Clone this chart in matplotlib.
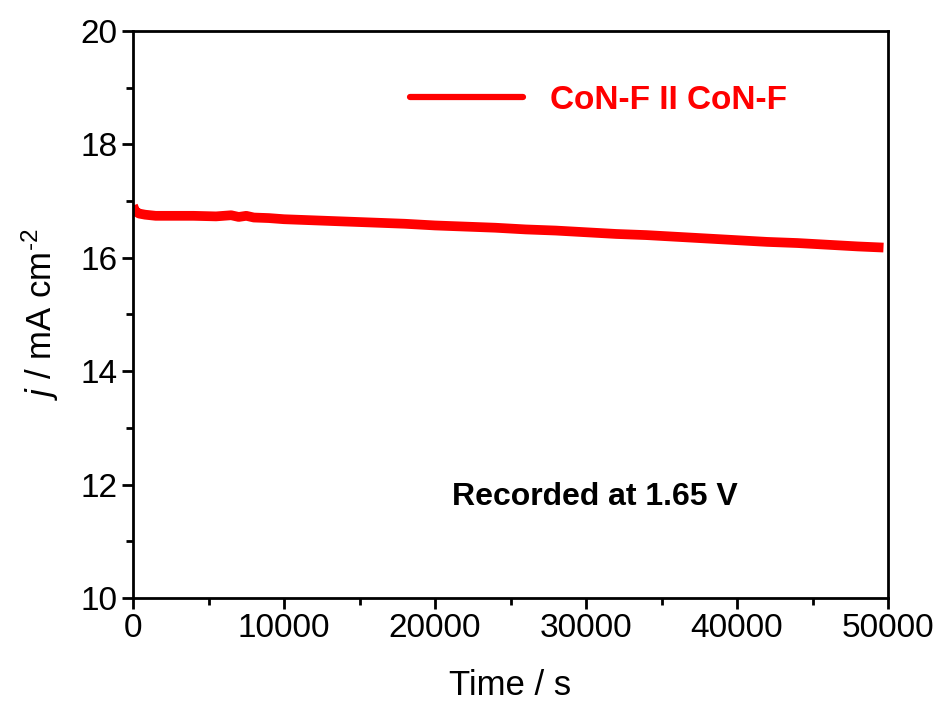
import matplotlib.pyplot as plt
import numpy as np

plt.rcParams['font.family'] = ['Liberation Sans', 'DejaVu Sans']
plt.rcParams['mathtext.fontset'] = 'custom'
plt.rcParams['mathtext.rm'] = 'Liberation Sans'
plt.rcParams['mathtext.it'] = 'Liberation Sans:italic'

# время (с) и плотность тока (mA cm^-2)
t = [0, 150, 400, 800, 1500, 2500, 4000, 5500, 6500, 7000, 7500, 8000, 9000,
     10000, 12000, 14000, 16000, 18000, 20000, 22000, 24000, 26000, 28000,
     30000, 32000, 34000, 36000, 38000, 40000, 42000, 44000, 46000, 48000, 49700]
j = [16.92, 16.82, 16.78, 16.76, 16.74, 16.74, 16.74, 16.73, 16.75, 16.72, 16.74,
     16.71, 16.70, 16.68, 16.66, 16.64, 16.62, 16.60, 16.57, 16.55, 16.53, 16.50,
     16.48, 16.45, 16.42, 16.40, 16.37, 16.34, 16.31, 16.28, 16.26, 16.23, 16.20, 16.18]

fig = plt.figure(figsize=(9.42, 7.04), dpi=100)
ax = fig.add_axes([0.1412, 0.1506, 0.8015, 0.8054])
ax.plot(t, j, color='#ff0000', lw=7, solid_capstyle='butt')
# линия для легенды (тоньше)
ax.plot([], [], color='#ff0000', lw=4.5, solid_capstyle='round', label='CoN-F II CoN-F')

ax.set_xlim(0, 50000)
ax.set_ylim(10, 20)
ax.set_xticks(np.arange(0, 50001, 10000))
ax.set_xticks(np.arange(5000, 50000, 10000), minor=True)
ax.set_yticks(np.arange(10, 21, 2))
ax.set_yticks(np.arange(11, 20, 2), minor=True)
ax.tick_params(which='major', direction='out', length=8, width=2, labelsize=24, pad=3)
ax.tick_params(which='minor', direction='out', length=5, width=2)
for s in ax.spines.values():
    s.set_linewidth(2)

ax.set_xlabel('Time / s', fontsize=25, labelpad=18)
ax.set_ylabel('$j$ / mA cm$^{\u2010\\mathrm{2}}$', fontsize=25, labelpad=14)

leg = ax.legend(loc='center left', bbox_to_anchor=(0.367, 0.878), frameon=False,
                handlelength=3.4, handletextpad=0.8, borderpad=0, borderaxespad=0,
                prop={'weight': 'bold', 'size': 24})
for txt in leg.get_texts():
    txt.set_color('#ff0000')

ax.text(0.612, 0.178, 'Recorded at 1.65 V', transform=ax.transAxes,
        fontsize=23, fontweight='bold', ha='center', va='center')

fig.savefig('out.png', dpi=100)
